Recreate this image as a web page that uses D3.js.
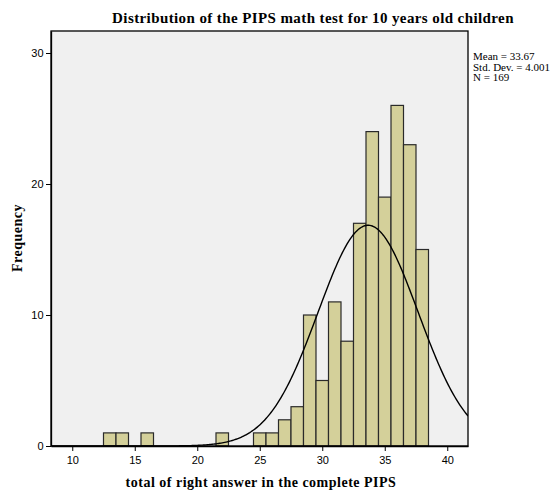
<!DOCTYPE html>
<html><head><meta charset="utf-8">
<script src="https://cdn.jsdelivr.net/npm/d3@7"></script>
<style>body{margin:0;background:#fff}</style>
</head><body>
<svg id="c" width="556" height="493"></svg>
<script>
const bins = [13,14,16,22,25,26,27,28,29,30,31,32,33,34,35,36,37,38];
const counts = [1,1,1,1,1,1,2,3,10,5,11,8,17,24,19,26,23,15];
const xTicks = [10,15,20,25,30,35,40];
const yTicks = [0,10,20,30];
const mean = 33.67, sd = 4.001, n = 169;
const statsLines = ["Mean = 33.67","Std. Dev. = 4.001","N = 169"];

const svg = d3.select("#c");
const L=51, R=468, T=31, B=446;
const x = d3.scaleLinear().domain([8.3,41.66]).range([L,R]);
const y = d3.scaleLinear().domain([0,31.68]).range([B,T]);

svg.append("rect").attr("x",L).attr("y",T).attr("width",R-L).attr("height",B-T).attr("fill","#f0f0f0");

svg.append("g").selectAll("rect").data(bins).join("rect")
  .attr("x",(d)=>x(d-0.5)).attr("width",(d)=>x(d+0.5)-x(d-0.5))
  .attr("y",(d,i)=>y(counts[i])).attr("height",(d,i)=>y(0)-y(counts[i]))
  .attr("fill","#d4d09a").attr("stroke","#2a2a2a").attr("stroke-width",1.2);

const pts = d3.range(8.3,41.66,0.1).concat([41.66]);
const pdf = v => n*1*Math.exp(-0.5*((v-mean)/sd)**2)/(sd*Math.sqrt(2*Math.PI));
svg.append("clipPath").attr("id","cl").append("rect").attr("x",L).attr("y",T).attr("width",R-L).attr("height",B-T);
svg.append("path").datum(pts).attr("clip-path","url(#cl)")
  .attr("d",d3.line().x(d=>x(d)).y(d=>y(pdf(d))))
  .attr("fill","none").attr("stroke","#000").attr("stroke-width",1.4);

svg.append("rect").attr("x",L).attr("y",T).attr("width",R-L).attr("height",B-T)
  .attr("fill","none").attr("stroke","#000").attr("stroke-width",1.3);

const xa = svg.append("g").attr("transform",`translate(0,${B})`)
  .call(d3.axisBottom(x).tickValues(xTicks).tickSize(5).tickSizeOuter(0).tickFormat(d3.format("d")));
const ya = svg.append("g").attr("transform",`translate(${L},0)`)
  .call(d3.axisLeft(y).tickValues(yTicks).tickSize(5).tickSizeOuter(0).tickFormat(d3.format("d")));
[xa,ya].forEach(a=>{
  a.select(".domain").attr("stroke","#000").attr("stroke-width",1.3);
  a.selectAll(".tick line").attr("stroke","#000");
  a.selectAll("text").attr("font-family","Liberation Sans, Arial, sans-serif").attr("font-size",11).attr("fill","#000");
});
xa.selectAll("text").attr("dy","0.9em");
ya.selectAll("text").attr("dx","0.05em");

svg.append("text").attr("x",313).attr("y",23).attr("text-anchor","middle")
  .attr("font-family","Liberation Serif, Times New Roman, serif").attr("font-weight","bold").attr("font-size",15)
  .attr("letter-spacing",0.4)
  .text("Distribution of the PIPS math test for 10 years old children");
svg.append("text").attr("x",261).attr("y",487).attr("text-anchor","middle")
  .attr("font-family","Liberation Serif, Times New Roman, serif").attr("font-weight","bold").attr("font-size",14)
  .attr("letter-spacing",0.5)
  .text("total of right answer in the complete PIPS");
svg.append("text").attr("transform","translate(22,238) rotate(-90)").attr("text-anchor","middle")
  .attr("font-family","Liberation Serif, Times New Roman, serif").attr("font-weight","bold").attr("font-size",14)
  .attr("letter-spacing",0.5)
  .text("Frequency");
svg.append("g").selectAll("text").data(statsLines).join("text")
  .attr("x",473).attr("y",(d,i)=>60+i*10.5)
  .attr("font-family","Liberation Serif, Times New Roman, serif").attr("font-size",11)
  .text(d=>d);
</script>
</body></html>
